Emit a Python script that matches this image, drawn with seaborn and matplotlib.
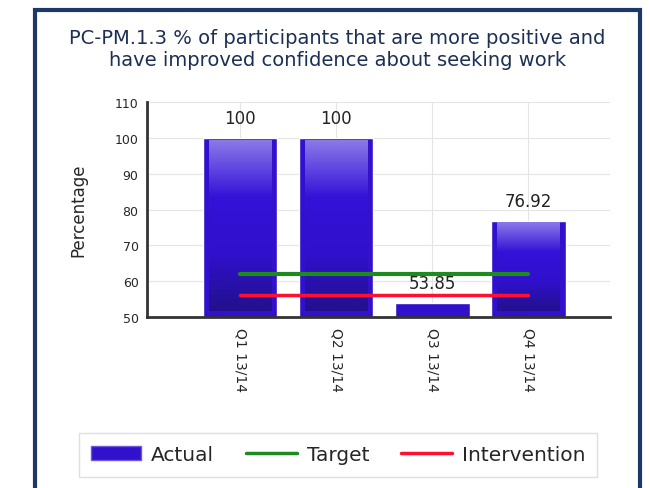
import numpy as np
import pandas as pd
import seaborn as sns
import matplotlib.pyplot as plt
from matplotlib.patches import Rectangle, Patch
from matplotlib.lines import Line2D

quarters = ["Q1 13/14", "Q2 13/14", "Q3 13/14", "Q4 13/14"]
actual = [100, 100, 53.85, 76.92]
target = [62, 62, 62, 62]
intervention = [56, 56, 56, 56]
labels = ["100", "100", "53.85", "76.92"]

df = pd.DataFrame({"quarter": quarters, "actual": actual})

sns.set_style("white")
plt.rcParams['font.family'] = ['DejaVu Sans']

fig = plt.figure(figsize=(6.5, 4.89), dpi=100)
ax = fig.add_axes([0.226, 0.35, 0.712, 0.439])

sns.barplot(data=df, x="quarter", y="actual", color="#3311cc", width=0.78,
            saturation=1, ax=ax, zorder=2)

# gradient fill inside each bar
grad = np.linspace(0, 1, 256).reshape(-1, 1)
cmap = plt.matplotlib.colors.LinearSegmentedColormap.from_list(
    "bar", ["#8a7ae8", "#3512d8", "#3010cc", "#22108c"])
for p in ax.patches:
    x0, w = p.get_x(), p.get_width()
    top = p.get_height()
    if top - 50 < 4:
        continue
    ax.imshow(grad, aspect="auto", cmap=cmap, zorder=3,
              extent=(x0 + w * 0.08, x0 + w * 0.92, 51.5, top - 0.8))
ax.set_xlim(-0.97, 3.85)
ax.set_ylim(50, 110)

ax.plot(range(4), target, color="#1f8a1f", lw=3, zorder=4)
ax.plot(range(4), intervention, color="#ff1030", lw=2.5, zorder=4)

for i, (v, t) in enumerate(zip(actual, labels)):
    ax.text(i, v + 3, t, ha="center", va="bottom", fontsize=12, color="#222222", zorder=5)

ax.set_yticks(range(50, 111, 10))
ax.tick_params(axis="y", labelsize=9, length=4, width=1.5, color="#333333", pad=2)
ax.tick_params(axis="x", labelsize=10, length=4, width=1.5, color="#333333",
               labelrotation=270, pad=3)
ax.grid(True, color="#e4e4e4", lw=0.8, zorder=0)
ax.set_axisbelow(True)
for s in ["top", "right"]:
    ax.spines[s].set_visible(False)
for s in ["left", "bottom"]:
    ax.spines[s].set_color("#333333")
    ax.spines[s].set_linewidth(2)
ax.set_xlabel("")
ax.set_ylabel("Percentage", fontsize=12, labelpad=20)

fig.text(0.519, 0.898, "PC-PM.1.3 % of participants that are more positive and\nhave improved confidence about seeking work",
         ha="center", va="center", fontsize=14, color="#1c2f55", linespacing=1.2)

fig.patches.append(Rectangle((0.054, -0.05), 0.931, 1.0275, transform=fig.transFigure,
                             fill=False, edgecolor="#1c3866", lw=3))

handles = [Patch(facecolor="#3311cc", edgecolor="#6a5ae0"),
           Line2D([0], [0], color="#1f8a1f", lw=2.5),
           Line2D([0], [0], color="#ff1030", lw=2.5)]
fig.legend(handles, ["Actual", "Target", "Intervention"], loc="center",
           bbox_to_anchor=(0.52, 0.0675), ncol=3, fontsize=14.5, frameon=True,
           fancybox=False, edgecolor="#d8d8d8", handlelength=2.5,
           columnspacing=1.6, borderpad=0.6, handletextpad=0.5)

fig.savefig("out.png", dpi=100)
